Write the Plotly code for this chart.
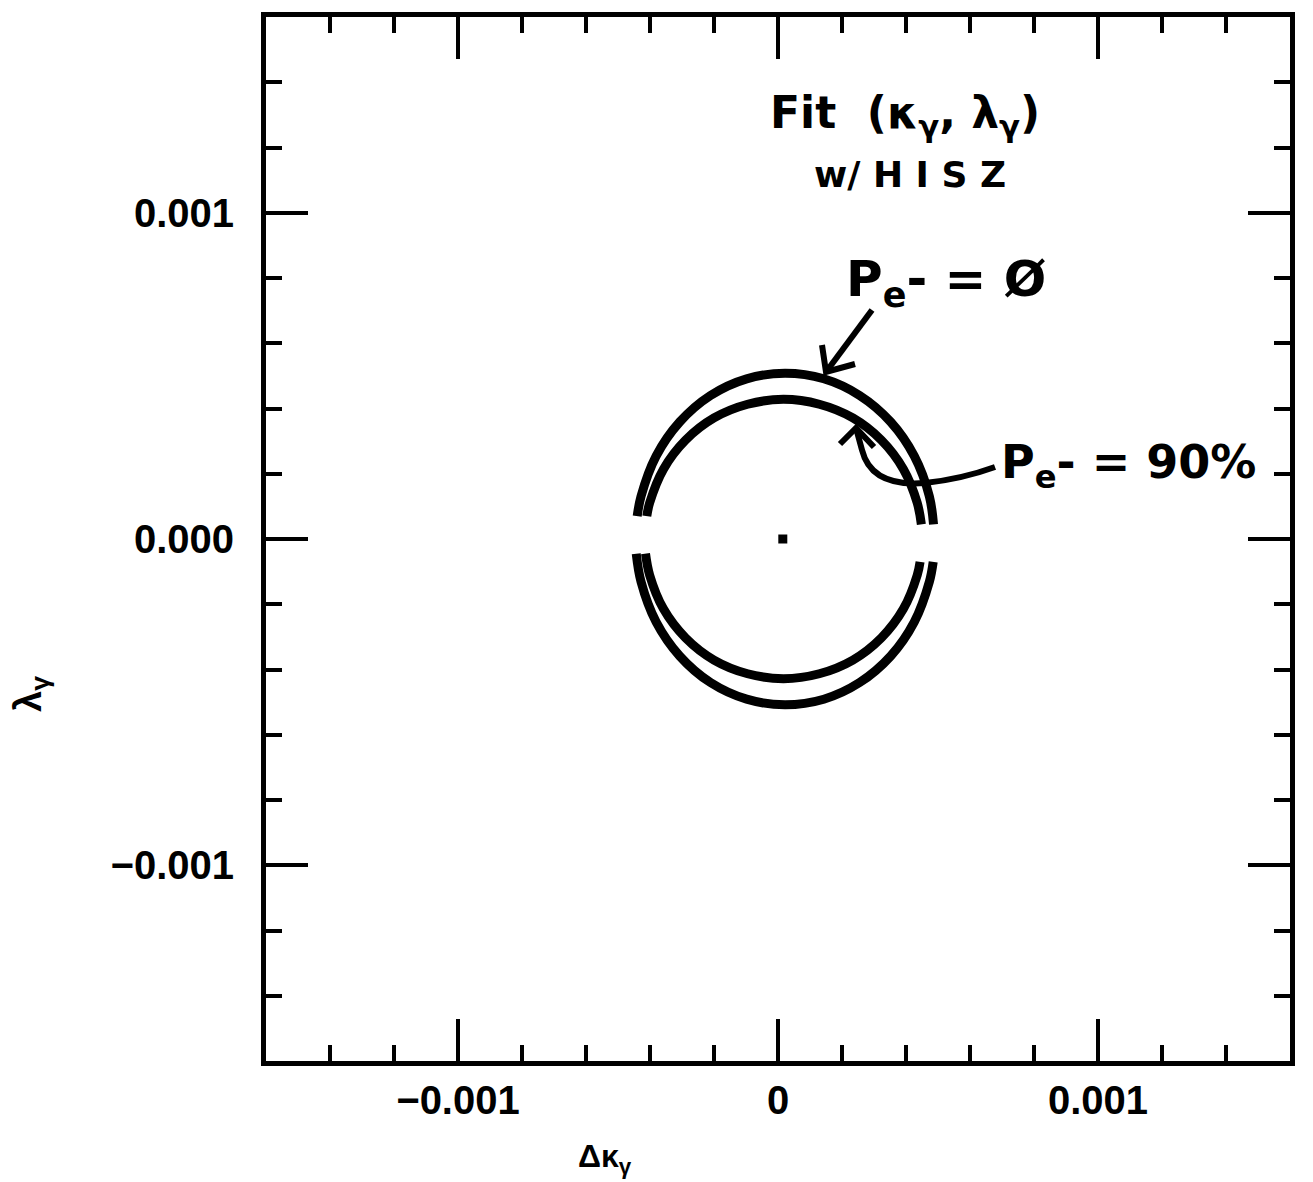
import plotly.graph_objects as go

# ---- data (values in units of 1e-3) ----
SCALE = 1e-3
outer_upper_x = [0.486, 0.473, 0.426, 0.352, 0.255, 0.143, 0.022, -0.098, -0.211, -0.307, -0.381, -0.428, -0.440]
outer_upper_y = [0.045, 0.131, 0.254, 0.359, 0.440, 0.491, 0.508, 0.491, 0.440, 0.359, 0.254, 0.131, 0.070]
outer_lower_x = [-0.443, -0.428, -0.381, -0.307, -0.211, -0.098, 0.022, 0.143, 0.255, 0.352, 0.426, 0.473, 0.485]
outer_lower_y = [-0.045, -0.131, -0.254, -0.359, -0.440, -0.491, -0.508, -0.491, -0.440, -0.359, -0.254, -0.131, -0.070]

inner_upper_x = [0.448, 0.435, 0.392, 0.323, 0.234, 0.129, 0.017, -0.095, -0.200, -0.289, -0.358, -0.401, -0.410]
inner_upper_y = [0.045, 0.111, 0.214, 0.303, 0.371, 0.413, 0.428, 0.413, 0.371, 0.303, 0.214, 0.111, 0.070]
inner_lower_x = [-0.414, -0.401, -0.358, -0.289, -0.200, -0.095, 0.017, 0.129, 0.234, 0.323, 0.392, 0.435, 0.444]
inner_lower_y = [-0.045, -0.111, -0.214, -0.303, -0.371, -0.413, -0.428, -0.413, -0.371, -0.303, -0.214, -0.111, -0.070]

center_x = [0.015]
center_y = [0.0]

x_range = [-0.0016, 0.0016]
y_range = [-0.0016, 0.0016]

# ---- layout geometry (pixels) ----
W, H = 1313, 1182
L, R, T, B = 266, 1290, 17, 1061


def xp(px):
    return (px - L) / (R - L)


def yp(py):
    return (B - py) / (B - T)


def s(v):
    return [a * SCALE for a in v]


fig = go.Figure()
line_style = dict(color="black", width=9, shape="spline", smoothing=1.0)
for name, xs, ys in [
    ("P=0 upper", outer_upper_x, outer_upper_y),
    ("P=0 lower", outer_lower_x, outer_lower_y),
    ("P=90 upper", inner_upper_x, inner_upper_y),
    ("P=90 lower", inner_lower_x, inner_lower_y),
]:
    fig.add_trace(go.Scatter(x=s(xs), y=s(ys), mode="lines", line=line_style,
                             name=name, showlegend=False, hoverinfo="skip"))

fig.add_trace(go.Scatter(x=s(center_x), y=s(center_y), mode="markers",
                         marker=dict(symbol="square", size=9, color="black"),
                         showlegend=False))

axis_common = dict(
    showline=True, linewidth=5, linecolor="black", mirror="ticks",
    ticks="inside", ticklen=42, tickwidth=4, tickcolor="black",
    showgrid=False, zeroline=False,
    tickmode="linear", tick0=0, dtick=0.001,
    exponentformat="none",
    tickfont=dict(family="Liberation Sans", size=40, color="black", weight="bold"),
    minor=dict(ticks="inside", ticklen=16, tickwidth=4, tickcolor="black",
               tick0=0, dtick=0.0002, showgrid=False),
)

fig.update_xaxes(range=x_range, ticklabelstandoff=0, **axis_common)
fig.update_yaxes(range=y_range, tickformat=".3f", ticklabelstandoff=19, **axis_common)

hand = dict(family="DejaVu Sans", color="black", weight="bold")
annotations = [
    dict(x=xp(605), y=yp(1158), text="<b>Δκ<sub>γ</sub></b>",
         font=dict(family="Liberation Sans", size=32, color="black")),
    dict(x=xp(31), y=yp(694), text="<b>λ<sub>γ</sub></b>", textangle=-90,
         font=dict(family="Liberation Sans", size=38, color="black")),
    dict(x=xp(905), y=yp(115), text="Fit  (κ<sub>γ</sub>, λ<sub>γ</sub>)",
         font=dict(size=44, **hand)),
    dict(x=xp(910), y=yp(175), text="w/ H I S Z", font=dict(size=36, **hand)),
    dict(x=xp(946), y=yp(282), text="P<sub>e</sub>- = Ø", font=dict(size=50, **hand)),
    dict(x=xp(1128), y=yp(466), text="P<sub>e</sub>- = 90%", font=dict(size=46, **hand)),
]
for a in annotations:
    a.update(xref="paper", yref="paper", showarrow=False, xanchor="center", yanchor="middle")


arrow1 = "M {},{} L {},{}".format(xp(872), yp(310), xp(826), yp(372))
head1 = "M {},{} L {},{} L {},{}".format(xp(822), yp(345), xp(826), yp(372), xp(855), yp(364))
arrow2 = "M {},{} Q {},{} {},{} C {},{} {},{} {},{} L {},{}".format(
    xp(995), yp(467), xp(962), yp(479), xp(925), yp(483),
    xp(888), yp(486), xp(868), yp(474), xp(862), yp(450), xp(856), yp(428))
head2 = "M {},{} L {},{} L {},{}".format(xp(840), yp(444), xp(856), yp(428), xp(874), yp(447))

shapes = [dict(type="path", path=p, xref="paper", yref="paper",
               line=dict(color="black", width=6))
          for p in (arrow1, head1, arrow2, head2)]

fig.update_layout(
    width=W, height=H,
    margin=dict(l=L, r=W - R, t=T, b=H - B),
    paper_bgcolor="white", plot_bgcolor="white",
    showlegend=False,
    annotations=annotations,
    shapes=shapes,
)

fig.write_html("out.html")
